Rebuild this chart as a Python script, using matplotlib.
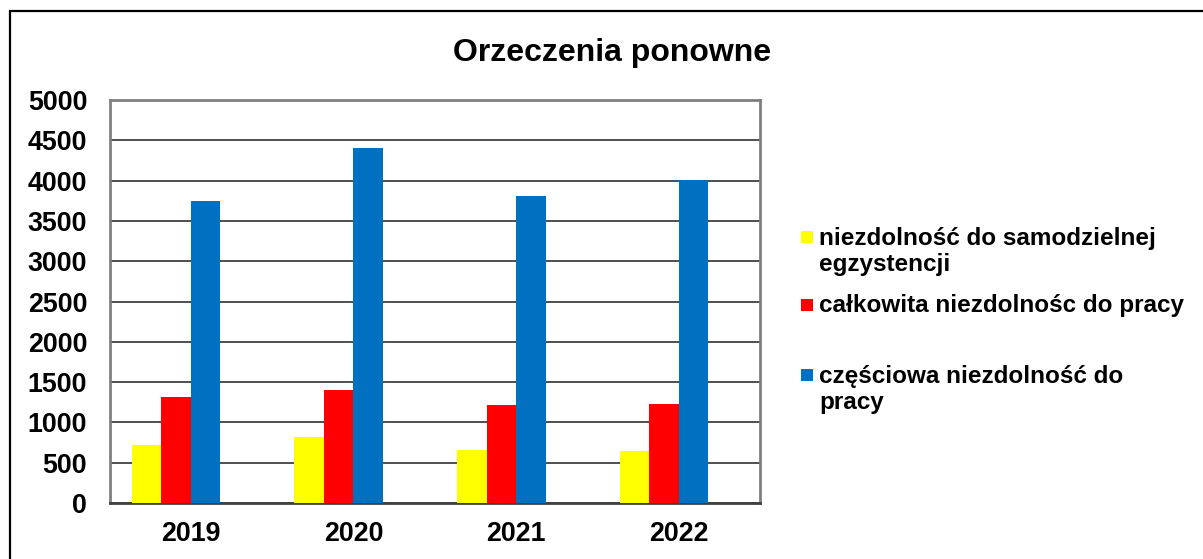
import matplotlib
matplotlib.use("Agg")
import matplotlib.pyplot as plt
from matplotlib.patches import Rectangle
import numpy as np

years = ["2019", "2020", "2021", "2022"]
series_names = ["niezdolność do samodzielnej\negzystencji",
                "całkowita niezdolnośc do pracy",
                "częściowa niezdolność do\npracy"]
yellow_vals = [725, 815, 663, 650]
red_vals = [1318, 1401, 1210, 1223]
blue_vals = [3750, 4400, 3805, 4003]
colors = ["#FFFF00", "#FF0000", "#0070C0"]
title = "Orzeczenia ponowne"

plt.rcParams['font.family'] = ['Liberation Sans', 'DejaVu Sans']
plt.rcParams['font.weight'] = 'bold'

fig = plt.figure(figsize=(12.03, 5.59), dpi=100)
W, H = 1203, 559
ax = fig.add_axes([109.5 / W, 1 - 503 / H, (760 - 109.5) / W, (503 - 100) / H])

x = np.arange(len(years))
w = 0.1813
for k, vals in enumerate([yellow_vals, red_vals, blue_vals]):
    ax.bar(x + (k - 1.5) * w, vals, width=w, color=colors[k], zorder=3, linewidth=0)

ax.set_xlim(-0.5, len(years) - 0.5)
ax.set_ylim(0, 5000)
ax.set_yticks(np.arange(0, 5001, 500))
ax.set_xticks(x)
ax.set_xticklabels(years, fontsize=19.3, fontweight='bold')
ax.tick_params(axis='y', labelsize=19.3, length=0, pad=16)
ax.tick_params(axis='x', length=0, pad=13)
for lbl in ax.get_yticklabels():
    lbl.set_fontweight('bold')
ax.grid(axis='y', color='#303030', linewidth=1.2, zorder=0)
ax.set_axisbelow(True)
for s in ['left', 'top', 'right']:
    ax.spines[s].set_color('#808080')
    ax.spines[s].set_linewidth(2)
ax.spines['bottom'].set_color('#404040')
ax.spines['bottom'].set_linewidth(2)

fig.text(612 / W, 1 - 53 / H, title, fontsize=23, fontweight='bold',
         ha='center', va='center')

# legend (manual)
entries = [(237, 240, series_names[0]), (305, 307, series_names[1]),
           (375, 378, series_names[2])]
for k, (ys, yc, name) in enumerate(entries):
    fig.patches.append(Rectangle((801 / W, 1 - (ys + 6) / H), 12 / W, 12 / H,
                                 transform=fig.transFigure, facecolor=colors[k],
                                 edgecolor='none'))
    fig.text(819 / W, 1 - (yc - 13) / H, name, fontsize=17.5, fontweight='bold',
             ha='left', va='top', linespacing=1.17)

# outer frame
fig.patches.append(Rectangle((10 / W, -0.05), 1.2, 1 - 11 / H + 0.05,
                             transform=fig.transFigure, facecolor='none',
                             edgecolor='black', linewidth=1.6, zorder=10))

fig.savefig("out.png", dpi=100)
